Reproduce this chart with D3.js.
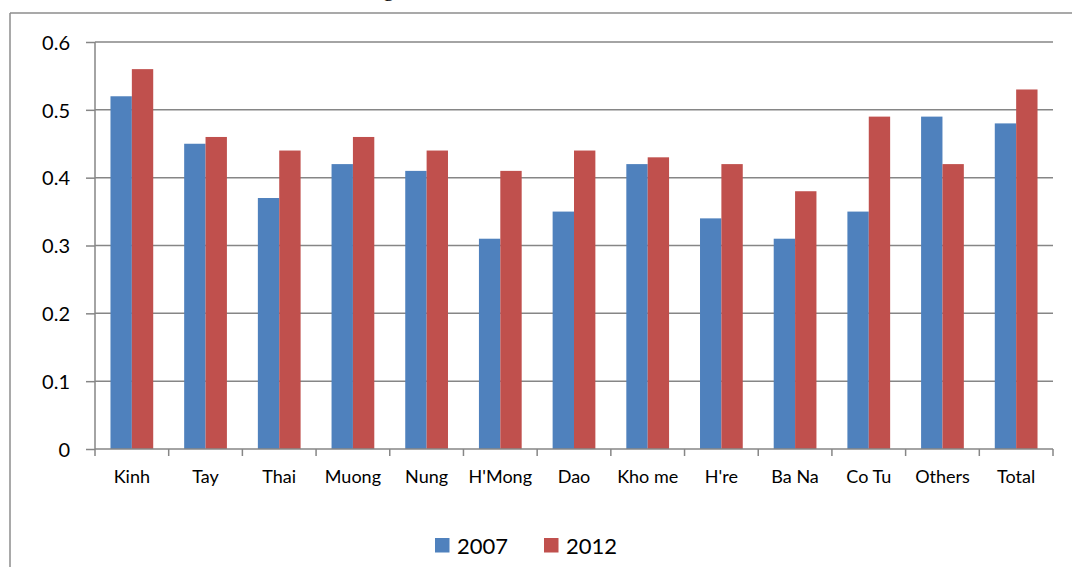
<!DOCTYPE html>
<html>
<head>
<meta charset="utf-8">
<script src="https://cdn.jsdelivr.net/npm/d3@7"></script>
<style>
  html, body { margin: 0; padding: 0; background: #fff; }
  svg { display: block; }
</style>
</head>
<body>
<svg id="chart" width="1072" height="567"></svg>
<script>
// Ethnic groups shown along the x axis
const categories = ["Kinh", "Tay", "Thai", "Muong", "Nung", "H'Mong", "Dao", "Kho me", "H're", "Ba Na", "Co Tu", "Others", "Total"];
// Index values per survey year
const values2007 = [0.52, 0.45, 0.37, 0.42, 0.41, 0.31, 0.35, 0.42, 0.34, 0.31, 0.35, 0.49, 0.48];
const values2012 = [0.56, 0.46, 0.44, 0.46, 0.44, 0.41, 0.44, 0.43, 0.42, 0.38, 0.49, 0.42, 0.53];
const seriesNames = ["2007", "2012"];
const yTicks = [0, 0.1, 0.2, 0.3, 0.4, 0.5, 0.6];

const colors = { "2007": "#4F81BD", "2012": "#C0504D" };
const gridColor = "#868686";
const font = "Lato, 'Open Sans', sans-serif";

const svg = d3.select("#chart");

// Frame of the chart box
svg.append("line").attr("x1", 10).attr("x2", 1072).attr("y1", 13).attr("y2", 13)
  .attr("stroke", "#8c8c8c").attr("stroke-width", 1.5);
svg.append("line").attr("x1", 10).attr("x2", 10).attr("y1", 13).attr("y2", 567)
  .attr("stroke", "#8c8c8c").attr("stroke-width", 1.5);

// Descender of the caption line above the box
svg.append("text").attr("x", 383).attr("y", -4)
  .attr("font-family", "'Liberation Serif', serif").attr("font-size", 22)
  .attr("fill", "#000").text("g");

const plot = { left: 95, right: 1053, top: 42, bottom: 449 };

const x = d3.scaleBand().domain(categories).range([plot.left, plot.right]).paddingInner(0).paddingOuter(0);
const inner = d3.scaleBand().domain(seriesNames).range([0, x.bandwidth()]).paddingInner(0).paddingOuter(0.21 / 0.58 * 0.5);
const y = d3.scaleLinear().domain([0, 0.6]).range([plot.bottom, plot.top]);

// Horizontal gridlines
svg.append("g").selectAll("line").data(yTicks.filter(d => d > 0)).join("line")
  .attr("x1", plot.left).attr("x2", plot.right)
  .attr("y1", d => y(d)).attr("y2", d => y(d))
  .attr("stroke", gridColor).attr("stroke-width", 1.5);

// Bars
const data = categories.map((c, i) => ({ cat: c, vals: [
  { s: "2007", v: values2007[i] }, { s: "2012", v: values2012[i] }
]}));
const groups = svg.append("g").selectAll("g").data(data).join("g")
  .attr("transform", d => `translate(${x(d.cat)},0)`);
const barW = x.bandwidth() * 0.29;
const groupOffset = (x.bandwidth() - 2 * barW) / 2;
const barX = d3.scaleOrdinal().domain(seriesNames).range([groupOffset, groupOffset + barW]);
groups.selectAll("rect").data(d => d.vals).join("rect")
  .attr("x", d => barX(d.s))
  .attr("width", barW)
  .attr("y", d => y(d.v))
  .attr("height", d => y(0) - y(d.v))
  .attr("fill", d => colors[d.s]);

// Y axis
const yAxis = svg.append("g").attr("transform", `translate(${plot.left},0)`)
  .call(d3.axisLeft(y).tickValues(yTicks).tickFormat(d => d === 0 ? "0" : d3.format(".1f")(d)).tickSize(9).tickPadding(16));
yAxis.select(".domain").attr("stroke", gridColor).attr("stroke-width", 1.5).attr("d", `M0,${plot.top}V${plot.bottom}`);
yAxis.selectAll(".tick line").attr("stroke", gridColor).attr("stroke-width", 1.5);
yAxis.selectAll(".tick text").attr("font-family", font).attr("font-size", 20).attr("fill", "#000").attr("dy", "0.36em");

// X axis with ticks at category boundaries
const xAxisG = svg.append("g");
xAxisG.append("line").attr("x1", plot.left).attr("x2", plot.right)
  .attr("y1", plot.bottom).attr("y2", plot.bottom)
  .attr("stroke", gridColor).attr("stroke-width", 1.5);
const boundaries = categories.map(c => x(c) + x.bandwidth()).concat([x(categories[0])]);
xAxisG.selectAll("line.tick").data(boundaries).join("line").attr("class", "tick")
  .attr("x1", d => d).attr("x2", d => d)
  .attr("y1", plot.bottom).attr("y2", plot.bottom + 7)
  .attr("stroke", gridColor).attr("stroke-width", 1.5);
xAxisG.selectAll("text").data(categories).join("text")
  .attr("x", d => x(d) + x.bandwidth() / 2)
  .attr("y", 483)
  .attr("text-anchor", "middle")
  .attr("font-family", font).attr("font-size", 18).attr("fill", "#000")
  .text(d => d);

// Legend
const legendItems = [{ s: "2007", x: 435 }, { s: "2012", x: 544 }];
const legend = svg.append("g").selectAll("g").data(legendItems).join("g")
  .attr("transform", d => `translate(${d.x},538)`);
legend.append("rect").attr("width", 14.5).attr("height", 14.5).attr("fill", d => colors[d.s]);
legend.append("text").attr("x", 22).attr("y", 15.5)
  .attr("font-family", font).attr("font-size", 22).attr("fill", "#000")
  .text(d => d.s);
</script>
</body>
</html>
